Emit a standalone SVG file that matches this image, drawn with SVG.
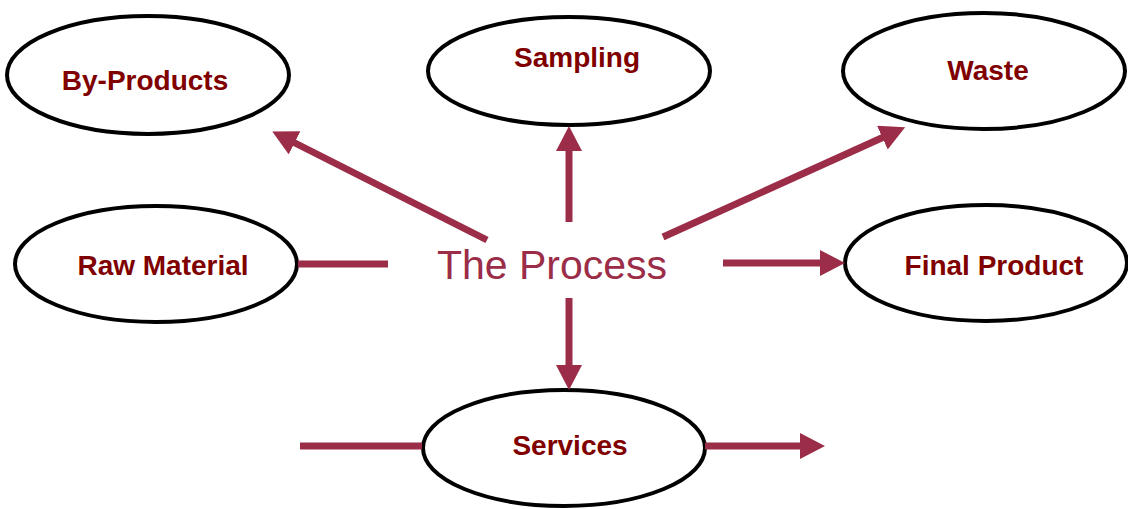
<svg xmlns="http://www.w3.org/2000/svg" width="1128" height="509" viewBox="0 0 1128 509">
<style>
.node ellipse{fill:#fff;stroke:#000;stroke-width:4}
.node text{font-family:"Liberation Sans",Arial,sans-serif;font-weight:bold;font-size:28px;fill:#800000;text-anchor:middle}
.conn path{fill:none;stroke:#9B2D48;stroke-width:7}
.center{font-family:"Liberation Sans",Arial,sans-serif;font-size:41px;fill:#9B2D48;text-anchor:middle}
</style>
<defs>
<marker id="ah" markerUnits="userSpaceOnUse" markerWidth="28" markerHeight="28" refX="4" refY="13" orient="auto">
<path d="M0,0 L25,13 L0,26 z" fill="#9B2D48"/>
</marker>
</defs>
<rect width="1128" height="509" fill="#fff"/>
<g id="byproducts" class="node"><ellipse cx="148" cy="75" rx="141" ry="59"/><text x="145" y="90">By-Products</text></g>
<g id="sampling" class="node"><ellipse cx="569" cy="71" rx="141" ry="54"/><text x="577" y="67">Sampling</text></g>
<g id="waste" class="node"><ellipse cx="984" cy="71" rx="141" ry="58"/><text x="988" y="80">Waste</text></g>
<g id="rawmaterial" class="node"><ellipse cx="156" cy="264" rx="141" ry="58"/><text x="163" y="275">Raw Material</text></g>
<g id="finalproduct" class="node"><ellipse cx="986" cy="263" rx="141" ry="58"/><text x="994" y="275">Final Product</text></g>
<g id="services" class="node"><ellipse cx="564" cy="448" rx="141" ry="58"/><text x="570" y="455">Services</text></g>
<g id="process"><text class="center" x="552" y="279">The Process</text></g>
<g id="connectors" class="conn">
<path d="M487,240 L291,141" marker-end="url(#ah)"/>
<path d="M569,222 L569,147" marker-end="url(#ah)"/>
<path d="M663,237 L886,136" marker-end="url(#ah)"/>
<path d="M298,264 L388,264"/>
<path d="M723,263 L824,263" marker-end="url(#ah)"/>
<path d="M569,298 L569,369" marker-end="url(#ah)"/>
<path d="M300,446 L422,446"/>
<path d="M705,446 L804,446" marker-end="url(#ah)"/>
</g>
</svg>
